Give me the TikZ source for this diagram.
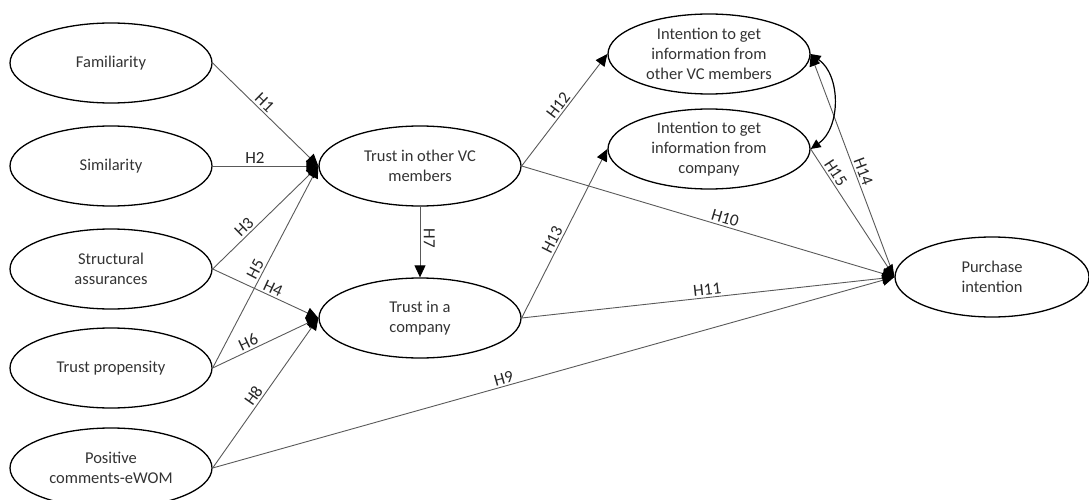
\documentclass[tikz,border=0pt]{standalone}
\usepackage{fontspec}
\setmainfont{Carlito}
\usepackage{tikz}
\usetikzlibrary{shapes, shapes.geometric, arrows.meta, calc, positioning}

\tikzset{
    construct/.style = {ellipse, draw=black, line width=1.3pt, minimum width=202pt,
        minimum height=80pt, inner sep=0pt, align=center, text=black!80,
        font=\fontsize{16.5}{20}\selectfont},
    path/.style = {draw=black!65, line width=0.9pt, -{Triangle[length=12pt,width=11pt,black]}},
    hyp/.style = {sloped, above, inner sep=2pt, text=black!85, font=\fontsize{17}{18}\selectfont}
}

\begin{document}
\begin{tikzpicture}[x=1pt, y=-1pt]
    \useasboundingbox (0,0) rectangle (1089,500);
    % antecedents
    \foreach \n/\y/\t in {F/63/Familiarity, S/166/Similarity, SA/269/{Structural\\assurances},
                          TP/368/Trust propensity, EW/468/{Positive\\comments-eWOM}}{
        \node[construct] (\n) at (111,\y) {\t};
    }
    % mediators
    \node[construct] (TVC) at (420,166) {Trust in other VC\\members};
    \node[construct] (TC) at (420,318) {Trust in a\\company};
    \node[construct] (IVC) at (709,54) {Intention to get\\information from\\other VC members};
    \node[construct] (IC) at (709,149) {Intention to get\\information from\\company};
    \node[construct, minimum width=194pt] (PI) at (992,277) {Purchase\\intention};

    \draw[path] (F.east) -- node[hyp, pos=0.44] {H1} (TVC.west);
    \draw[path] (S.east) -- node[hyp, pos=0.4] {H2} (TVC.west);
    \draw[path] (SA.east) -- node[hyp, pos=0.35] {H3} (TVC.west);
    \draw[path] (SA.east) -- node[hyp, pos=0.54] {H4} (TC.west);
    \draw[path] (TP.east) -- node[hyp, pos=0.47] {H5} (TVC.west);
    \draw[path] (TP.east) -- node[hyp, pos=0.37] {H6} (TC.west);
    \draw[path] (TVC) -- node[rotate=-90, anchor=south, pos=0.45, text=black!85,
        font=\fontsize{17}{18}\selectfont] {H7} (TC);
    \draw[path] (EW.east) -- node[hyp, pos=0.45] {H8} (TC.west);
    \draw[path] (EW.east) -- node[hyp, pos=0.43] {H9} (PI.west);
    \draw[path] (TVC.east) -- node[hyp, pos=0.54] {H10} (PI.west);
    \draw[path] (TC.east) -- node[hyp, pos=0.5] {H11} (PI.west);
    \draw[path] (TVC.east) -- node[hyp, pos=0.5] {H12} (IVC.west);
    \draw[path] (TC.east) -- node[hyp, pos=0.44] {H13} (IC.west);
    \draw[path] (PI.west) -- node[hyp, pos=0.46] {H14} (IVC.east);
    \draw[path] (IC.east) -- node[hyp, pos=0.22] {H15} (PI.west);
    \draw[line width=1.2pt, {Triangle[length=10pt,width=9pt]}-{Triangle[length=10pt,width=9pt]}]
        (IVC.east) to[bend left=55] (IC.east);
\end{tikzpicture}
\end{document}
